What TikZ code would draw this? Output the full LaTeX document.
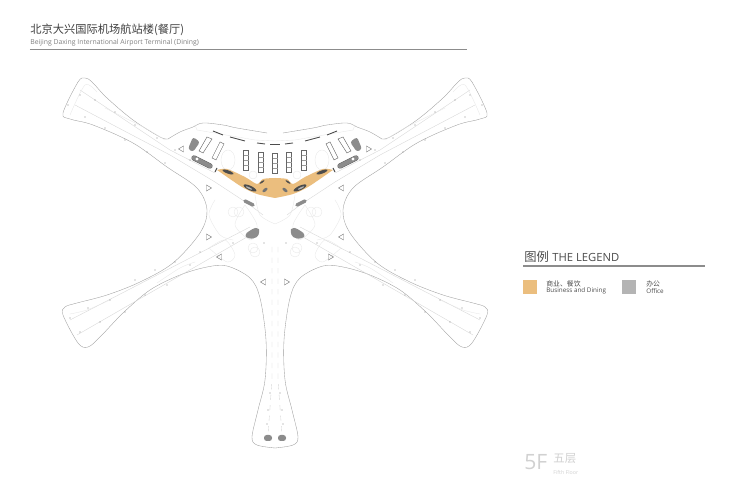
\documentclass[tikz,border=0pt]{standalone}
\usepackage{fontspec}
\setmainfont{Open Sans}
\newfontfamily\cjk{Noto Sans CJK SC}
\definecolor{dining}{HTML}{EBBE7E}
\definecolor{office}{HTML}{B4B4B4}
\definecolor{blob}{HTML}{8C8C8C}
\definecolor{pale}{HTML}{E8E8E8}
\tikzset{
  shell/.style={draw=black!38,line width=0.2pt},
  faint/.style={draw=pale,line width=0.2pt},
  axis/.style={draw=black!16,line width=0.2pt},
  shopbox/.style={draw=black!60,fill=white,line width=0.25pt},
  label/.style={anchor=west,inner sep=0pt,text=black!70},
}
\begin{document}
\begin{tikzpicture}[scale=0.02]
\useasboundingbox (-275,0) rectangle (460,-500);
\fill [white] (-275,0) rectangle (460,-500);
% both halves of the building
\foreach \side in {1,-1} {
\begin{scope}[xscale=\side]
\draw [shell] plot [smooth,tension=0.6] coordinates {(-8,-133) (-38,-128) (-52,-125) (-72,-123) (-82,-127) (-95,-132) (-107,-139)};
\draw [shell] plot [smooth,tension=0.55] coordinates {(-107,-139) (-115,-137) (-142,-120) (-168,-98) (-183,-82) (-190,-78) (-197,-82) (-212,-113) (-205,-119) (-182,-125) (-142,-143) (-108,-167) (-78,-188) (-68,-210) (-75,-233) (-102,-263) (-135,-282) (-168,-295) (-198,-303) (-210,-307) (-212,-315) (-197,-343) (-187,-347) (-175,-337) (-152,-313) (-125,-290) (-95,-275) (-68,-267) (-48,-266) (-25,-278) (-15,-298) (-9,-340) (-10,-380) (-17,-410) (-23,-437) (-18,-445) (0,-448)};
% axes of the arms
\draw [axis] (-195,-90) -- (-105,-150) -- (-60,-173);
\draw [axis] (-200,-105) -- (-105,-155) -- (-60,-182) -- (-25,-205) -- (-12,-215);
\draw [axis] (-205,-320) -- (-25,-227);
\draw [axis] (-198,-335) -- (-28,-237);
\draw [axis,dashed] (-3,-247) -- (-3,-380) -- (-7,-435);
\draw [faint] (-80,-125) -- (-78,-130) -- (-20,-140) -- (0,-141);
% pale outlines of the floor
\draw [faint] (-42,-212) circle (5);
\draw [faint] (-36,-212) circle (5);
\draw [faint] (-22,-248) circle (5);
\draw [faint] (-20,-252) circle (5);
\draw [faint] (-47,-160) ellipse (7 and 10);
\draw [faint] (-22,-175) circle (4);
\draw [faint] plot [smooth] coordinates {(-30,-205) (-18,-225) (-24,-240) (-40,-225) (-30,-205)};
\draw [faint] plot [smooth] coordinates {(-20,-195) (-15,-215) (0,-224)};
\draw [faint] plot [smooth] coordinates {(-60,-200) (-66,-215) (-55,-235) (-42,-240)};
\draw [faint] plot [smooth] coordinates {(-66,-248) (-50,-240) (-40,-255) (-48,-262) (-66,-248)};
\draw [faint] plot [smooth] coordinates {(-118,-283) (-95,-268) (-80,-262)};
\draw [faint] plot [smooth] coordinates {(-170,-108) (-130,-128) (-110,-140)};
\draw [faint] plot [smooth] coordinates {(-205,-314) (-188,-310) (-165,-300)};
\draw [faint] plot [smooth] coordinates {(-205,-115) (-190,-85) (-178,-92)};
% triangles
\foreach \x/\y/\d in {-94/-149/1,-66/-188/-1,-66/-237/-1,-56/-257/1,-12/-282/1} {
\draw [draw=black!50,line width=0.25pt] ({\x-2.5*\d},\y) -- ({\x+2.5*\d},{\y+3}) -- ({\x+2.5*\d},{\y-3}) -- cycle;
}
% columns
\foreach \x/\y in {-195/-95,-180/-100,-160/-112,-140/-125,-118/-138,-100/-150,-85/-160,-207/-105,-190/-117,-170/-128,-150/-140,-128/-152,-110/-163,-205/-318,-187/-308,-165/-300,-140/-280,-120/-270,-100/-262,-75/-252,-195/-332,-175/-322,-150/-312,-130/-295,-108/-285,-85/-265,-42/-243,-11/-243,-5/-393,-7/-410,-8/-424} {
\fill [black!45] (\x,\y) circle (0.6);
}
% office blobs
\fill [blob,rounded corners=1.5] (-87,-149) -- (-82,-137) -- (-75,-142) -- (-82,-152) -- cycle;
\draw [black!65,line width=3pt,line cap=round] (-81,-158) -- (-65,-166);
\draw [blob,line width=2.5pt,line cap=round] (-81,-158) -- (-65,-166);
\fill [white] (-78,-159) circle (1.6);
\fill [blob,rounded corners=2] (-31,-235) -- (-23,-229) -- (-17,-227) -- (-15,-232) -- (-18,-238) -- (-27,-239) -- cycle;
\draw [blob,line width=2pt,line cap=round] (-30,-201) -- (-22,-205);
\fill [blob,rounded corners=1.5] (-11,-441) rectangle (-3,-435);
% shops
\draw [shopbox] (-68,-137) -- (-63,-139) -- (-72,-153) -- (-76,-151) -- cycle;
\draw [shopbox] (-55,-142) -- (-51,-144) -- (-59,-160) -- (-63,-158) -- cycle;
\foreach \x/\y in {-29/-150,-14/-152,0/-153} {
\draw [shopbox] ({\x-2.5},\y) rectangle ({\x+2.5},{\y-20});
\draw [draw=black!40,line width=0.2pt] ({\x-2.5},{\y-5}) -- ({\x+2.5},{\y-5}) ({\x-2.5},{\y-10}) -- ({\x+2.5},{\y-10}) ({\x-2.5},{\y-15}) -- ({\x+2.5},{\y-15});
}
% dark dashes under the roof
\draw [black!70,line width=0.5pt] (-62,-131) -- (-52,-135);
\draw [black!70,line width=0.5pt] (-45,-137) -- (-30,-141);
\draw [black!70,line width=0.5pt] (-18,-143) -- (-10,-144);
% dining
\fill [dining] plot [smooth,tension=0.5] coordinates {(-58,-170) (-48,-169) (-30,-177) (-18,-184) (-12,-179) (0,-178)} -- plot [smooth,tension=0.5] coordinates {(0,-198) (-18,-194) (-33,-187) (-55,-172)} -- cycle;
\draw [black!70,line width=0.6pt] (-60,-172) -- (-58,-168);
\fill [black!70,rotate around={-20:(-47,-172)}] (-47,-172) ellipse (6 and 1.6);
\fill [black!70,rotate around={-25:(-25,-188)}] (-25,-188) ellipse (7 and 2.2);
\fill [gray!60,rotate around={-25:(-26,-188)}] (-26,-188) ellipse (3.5 and 0.8);
\fill [black!55,rotate around={40:(-10,-190)}] (-10,-190) ellipse (3 and 1.5);
\fill [black!70,rotate around={35:(-13,-182)}] (-13,-182) ellipse (3 and 0.8);
\end{scope}
}
% middle boxes drawn once
\draw [black!70,line width=0.4pt] (-5,-144) -- (5,-144);
% title
\node [label,font=\cjk\fontsize{6.4}{8}\selectfont,text=black!75] (title) at (-245,-30) {北京大兴国际机场航站楼(餐厅)};
\node [label,font=\fontsize{3.9}{4}\selectfont,text=black!50] (subtitle) at (-245,-43) {Beijing Daxing International Airport Terminal (Dining)};
\draw [black!45,line width=0.4pt] (-245,-49.5) -- (192,-49.5);
% legend
\node [label,font=\cjk\fontsize{7}{8}\selectfont] (legendzh) at (249,-257) {图例};
\node [label,font=\fontsize{6.4}{8}\selectfont] (legenden) at (277,-257) {THE LEGEND};
\draw [black!45,line width=0.7pt] (248,-266) -- (430,-266);
\node [draw=none,fill=dining,minimum size=8pt,inner sep=0pt] (swatchdining) at (255,-287) {};
\node [draw=none,fill=office,minimum size=8pt,inner sep=0pt] (swatchoffice) at (354,-287) {};
\node [label,font=\cjk\fontsize{3.9}{4}\selectfont] (diningzh) at (271,-284) {商业、餐饮};
\node [label,font=\fontsize{3.6}{4}\selectfont] (diningen) at (271,-291) {Business and Dining};
\node [label,font=\cjk\fontsize{3.9}{4}\selectfont] (officezh) at (371,-284) {办公};
\node [label,font=\fontsize{3.6}{4}\selectfont] (officeen) at (371,-291) {Office};
% floor mark
\node [label,font=\fontsize{12}{12}\selectfont,text=black!18] (floornum) at (249,-462) {5F};
\node [label,font=\cjk\fontsize{6.5}{7}\selectfont,text=black!18] (floorzh) at (278,-458) {五层};
\node [label,font=\fontsize{3}{3}\selectfont,text=black!18] (flooren) at (278,-472.5) {Fifth Floor};
\end{tikzpicture}
\end{document}
